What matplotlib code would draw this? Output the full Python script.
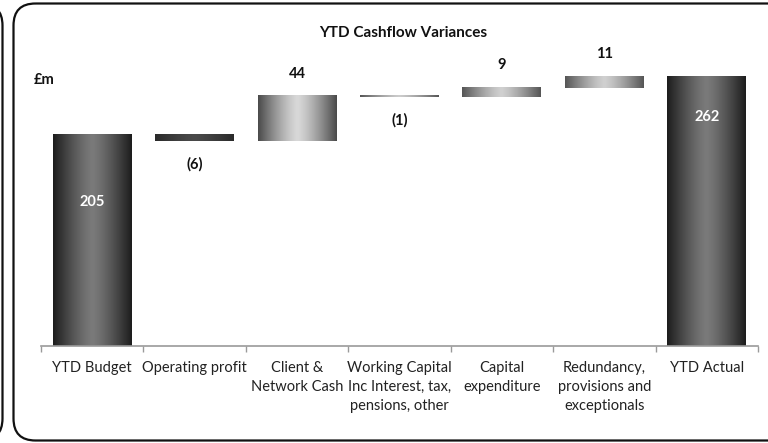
import numpy as np
import matplotlib
matplotlib.use("Agg")
import matplotlib.pyplot as plt
from matplotlib.colors import LinearSegmentedColormap
from matplotlib.patches import FancyBboxPatch

# Chart data
categories = ["YTD Budget", "Operating profit", "Client &\nNetwork Cash",
              "Working Capital\nInc Interest, tax,\npensions, other",
              "Capital\nexpenditure", "Redundancy,\nprovisions and\nexceptionals",
              "YTD Actual"]
values = [205, -6, 44, -1, 9, 11, 262]
is_total = [True, False, False, False, False, False, True]
value_labels = ["205", "(6)", "44", "(1)", "9", "11", "262"]

# gradient colours per bar: (edge, middle)
shades = [("#1c1c1c", "#7a7a7a"), ("#2a2a2a", "#4a4a4a"), ("#4a4a4a", "#d8d8d8"),
          ("#555555", "#cccccc"), ("#555555", "#d0d0d0"), ("#555555", "#d0d0d0"),
          ("#1c1c1c", "#7a7a7a")]

plt.rcParams['font.family'] = ['Lato', 'DejaVu Sans']

fig = plt.figure(figsize=(7.68, 4.43), dpi=100)

# background axes in pixel units, for the rounded panel frames
bg = fig.add_axes([0, 0, 1, 1])
bg.set_xlim(0, 768)
bg.set_ylim(443, 0)
bg.axis("off")
bg.add_patch(FancyBboxPatch((13.5, 3.5), 800, 437,
                            boxstyle="round,pad=0,rounding_size=22",
                            fill=False, edgecolor="#111111", linewidth=1.6))
bg.add_patch(FancyBboxPatch((-300, 3.5), 302.5, 437,
                            boxstyle="round,pad=0,rounding_size=22",
                            fill=False, edgecolor="#111111", linewidth=1.6))

ymax = 300
px_per_unit = 1.0295
ax = fig.add_axes([41 / 768, (443 - 346) / 443, 717 / 768, ymax * px_per_unit / 443])
ax.patch.set_alpha(0)

width = 0.77
running = 0
bottoms, heights = [], []
for v, tot in zip(values, is_total):
    if tot:
        bottoms.append(0)
        heights.append(v)
        running = v
    else:
        bottoms.append(min(running, running + v))
        heights.append(abs(v))
        running += v

grad = np.abs(np.linspace(-1, 1, 256))[None, :]
for i, (b, h) in enumerate(zip(bottoms, heights)):
    edge_c, mid_c = shades[i]
    cmap = LinearSegmentedColormap.from_list("g%d" % i, [mid_c, edge_c])
    ax.imshow(grad ** 1.3, extent=[i - width / 2, i + width / 2, b, b + h],
              aspect="auto", cmap=cmap, vmin=0, vmax=1, zorder=2,
              interpolation="bilinear")

ax.set_xlim(-0.5, len(values) - 0.5)
ax.set_ylim(0, ymax)

# value labels
inside_offset = {0: -48, 6: -29}
for i, (v, lab) in enumerate(zip(values, value_labels)):
    top = bottoms[i] + heights[i]
    if is_total[i]:
        ax.annotate(lab, (i, top), xytext=(0, inside_offset[i]), textcoords="offset points",
                    ha="center", va="center", color="white", fontsize=10.5, fontweight="bold")
    elif v > 0:
        ax.annotate(lab, (i, top), xytext=(0, 16), textcoords="offset points",
                    ha="center", va="center", color="#111111", fontsize=10.5, fontweight="bold")
    else:
        ax.annotate(lab, (i, bottoms[i]), xytext=(0, -17), textcoords="offset points",
                    ha="center", va="center", color="#111111", fontsize=10.5, fontweight="bold")

for s in ["top", "right", "left"]:
    ax.spines[s].set_visible(False)
ax.spines["bottom"].set_color("#9a9a9a")
ax.spines["bottom"].set_linewidth(1.2)
ax.set_yticks([])
ax.set_xticks(range(len(categories)))
ax.set_xticklabels(categories, fontsize=10.5, color="#222222", linespacing=1.45)
ax.tick_params(axis="x", which="major", length=0, pad=11)
ax.set_xticks(np.arange(-0.5, len(categories)), minor=True)
ax.tick_params(axis="x", which="minor", length=4, color="#9a9a9a", width=1.0, direction="out")

fig.text(403 / 768, 1 - 33 / 443, "YTD Cashflow Variances", ha="center", va="center",
         fontsize=11, fontweight="bold", color="#111111")
fig.text(34 / 768, 1 - 80 / 443, "£m", ha="left", va="center",
         fontsize=10.5, fontweight="bold", color="#111111")

fig.savefig("out.png", dpi=100)
